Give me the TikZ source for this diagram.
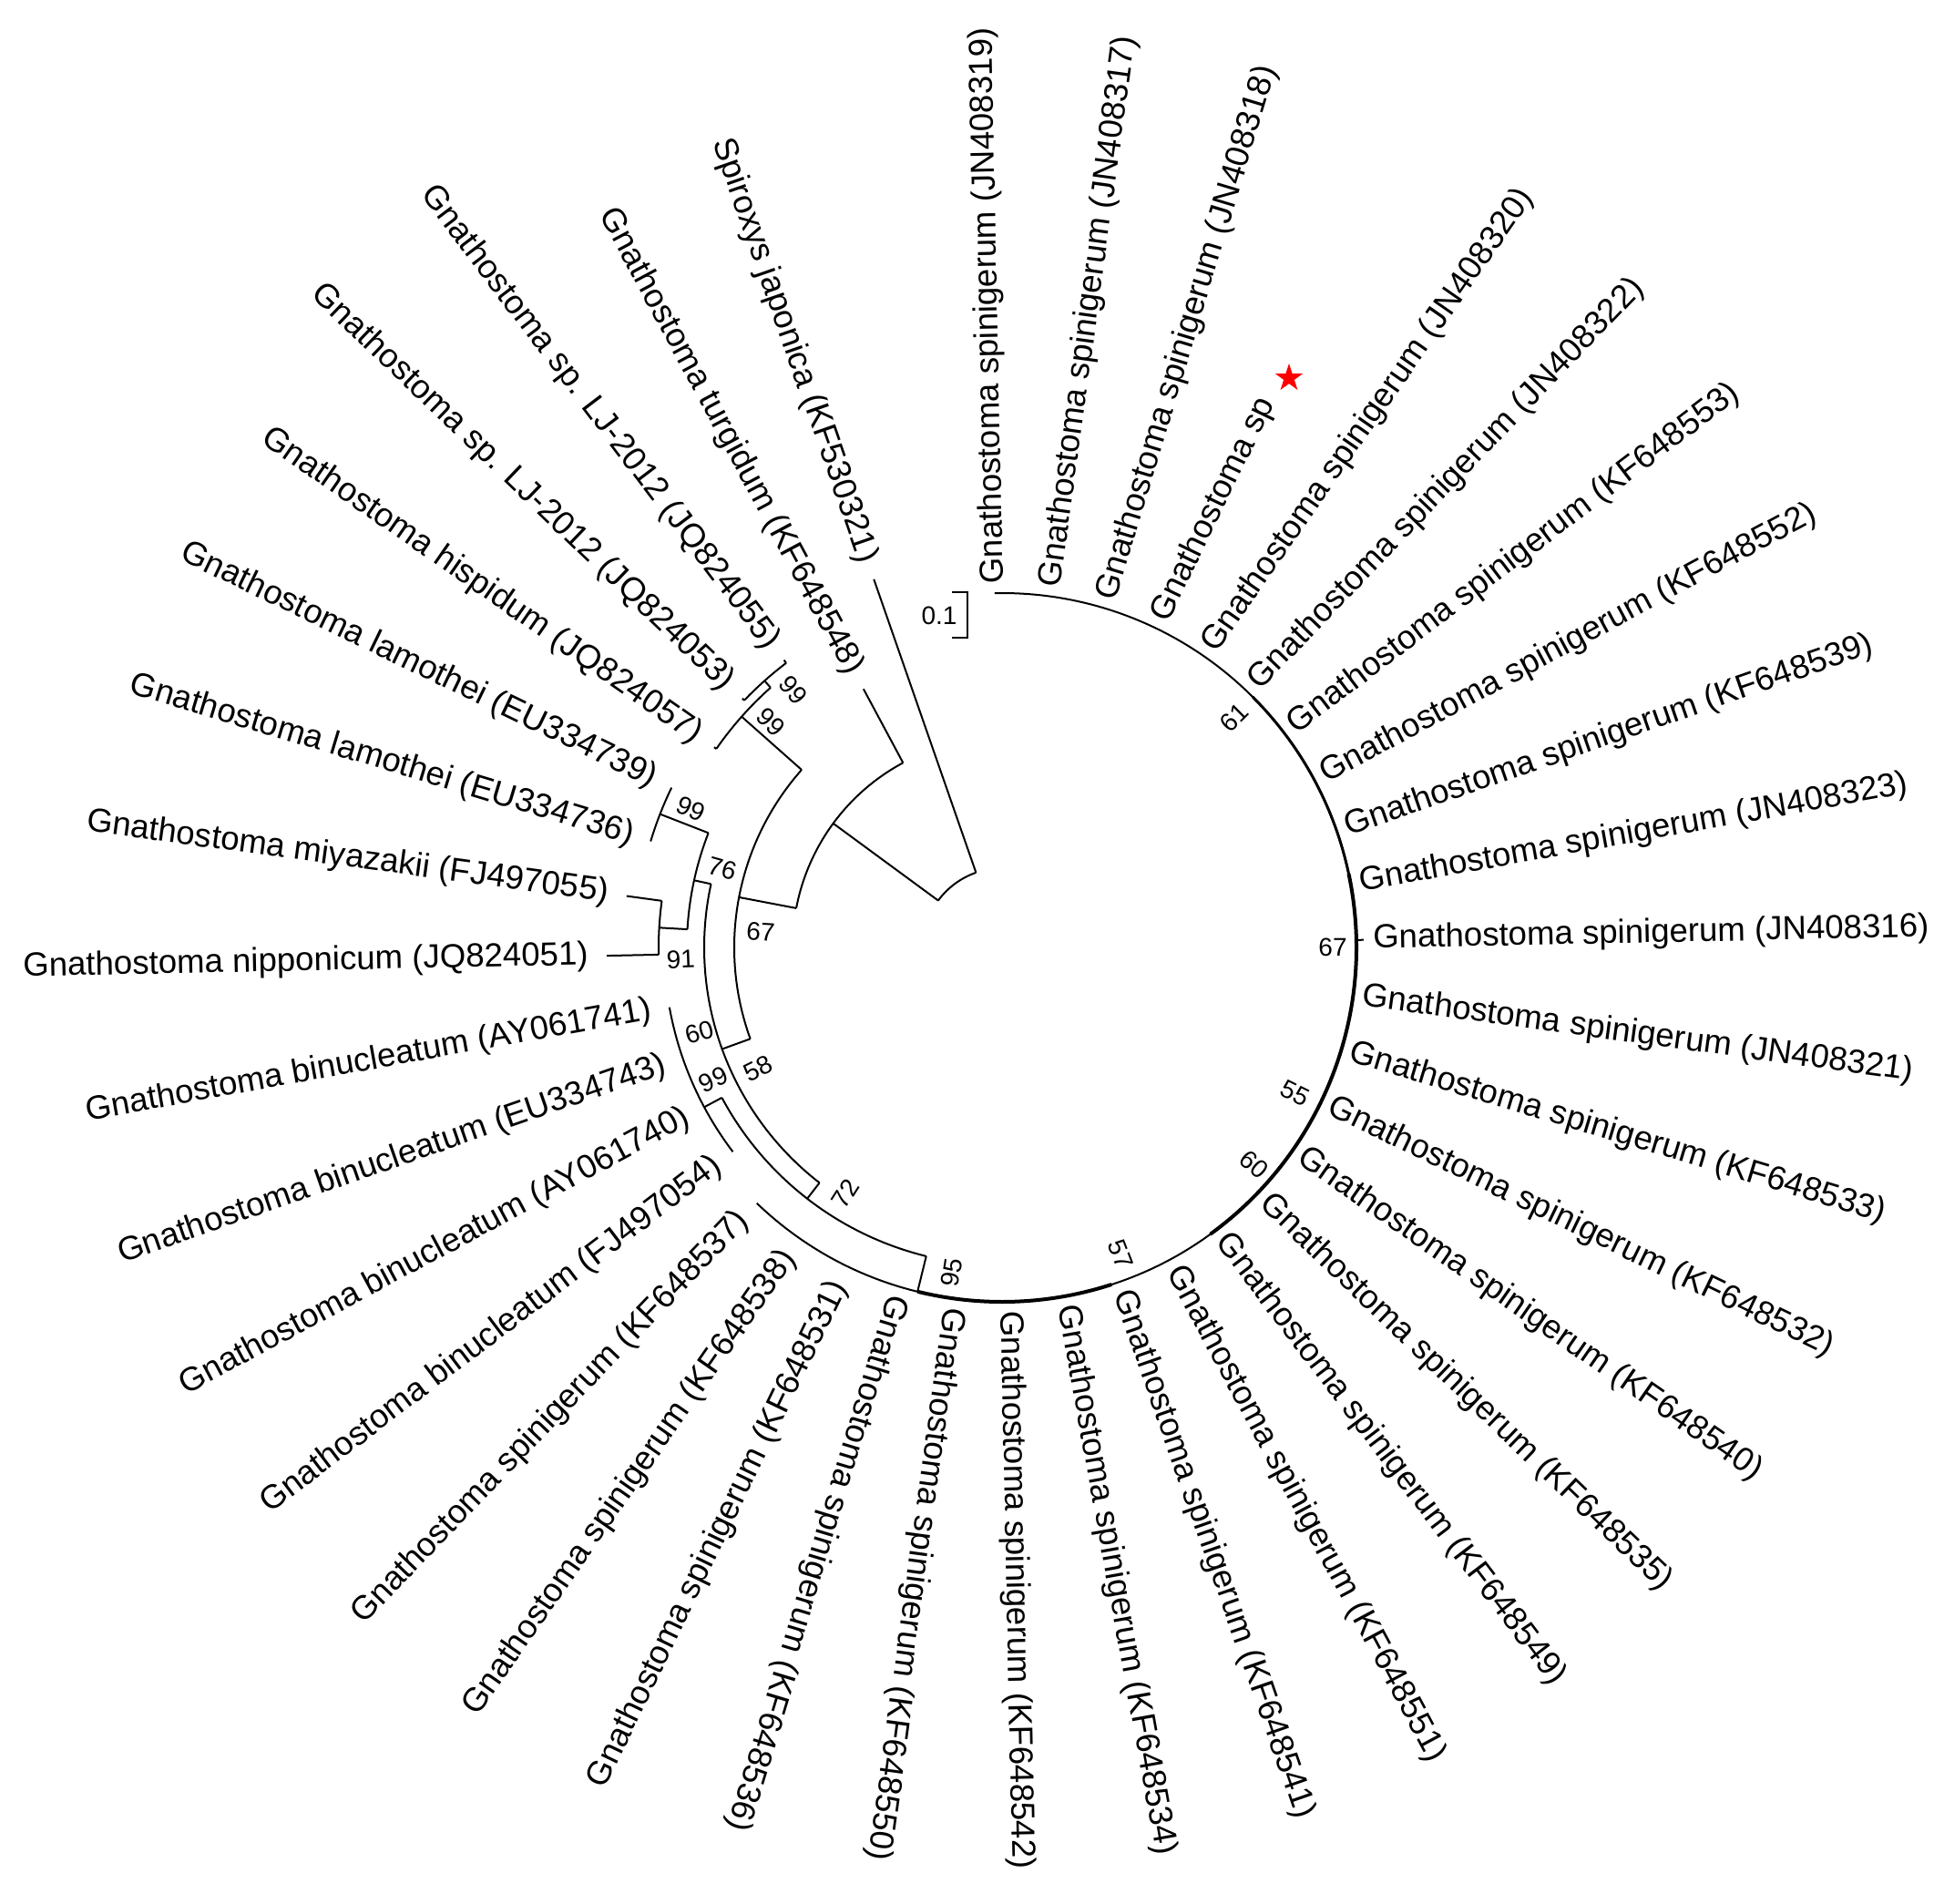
\documentclass[tikz,border=0pt]{standalone}
\usepackage{fontspec}
\setmainfont{Liberation Sans}
\usetikzlibrary{shapes.geometric}
\newcommand\arcc[4][]{\draw[br,#1] (#2:#4pt) arc[start angle=#2, end angle=#3, radius=#4pt];}
\newcommand\radial[4]{\coordinate (#1-in) at (#2:#3pt); \coordinate (#1) at (#2:#4pt); \draw[br] (#1-in) -- (#1);}
\newcommand\labR[4]{\coordinate (#1tip) at (#2:#3pt); \node[leaf, anchor=west, rotate=#2] (#1) at ({#2}:{#3pt+5pt}) {#4};}
\newcommand\labL[4]{\coordinate (#1tip) at (#2:#3pt); \node[leaf, anchor=east, rotate=#2-180] (#1) at ({#2}:{#3pt+10pt}) {#4};}
\begin{document}
\begin{tikzpicture}[x=1pt,y=1pt,
  br/.style={line width=1pt, black, line cap=butt},
  leaf/.style={font=\fontsize{18.3}{22}\selectfont, inner sep=0pt},
  boot/.style={font=\fontsize{14}{16}\selectfont, inner sep=0pt}]
\useasboundingbox (-550,-524.5) rectangle (517,520);
% ---------------- tree skeleton ----------------
\coordinate (root) at (126.45:43.5pt);
\arcc{109.2}{143.7}{43.5}
\radial{spx}{109.2}{43.5}{214}
\radial{nX}{143.7}{43.5}{115}
\arcc{118.2}{169.2}{115}
\radial{turg}{118.2}{115}{161}
\radial{nY}{169.2}{115}{147}
\arcc{138.45}{199.95}{147}
% clade Z
\radial{nZ}{138.45}{147}{191}
\arcc{131.7}{145.2}{191}
\radial{hisp}{145.2}{191}{192.5}
\radial{nLJ}{131.7}{191}{196}
\arcc{127.2}{136.2}{196}
\radial{lj55}{127.2}{196}{198}
\radial{lj53}{136.2}{196}{197.5}
% clade V
\radial{nV}{199.95}{147}{163.5}
\arcc{167.7}{232.2}{163.5}
\radial{nU}{167.7}{163.5}{173}
\arcc{158.7}{176.7}{173}
\radial{nLam}{158.7}{173}{201.5}
\arcc{154.2}{163.2}{201.5}
\radial{n91}{176.7}{173}{188.5}
\arcc{172.2}{181.2}{188.5}
\radial{miy}{172.2}{188.5}{208}
\radial{nip}{181.2}{188.5}{217}
% clade 72
\radial{n72}{232.2}{163.5}{174.5}
\arcc{208.2}{256.2}{174.5}
\radial{nBin}{208.2}{174.5}{185.5}
\arcc{190.2}{217.2}{185.5}
\radial{n95}{256.2}{174.5}{194.5}
\arcc{226.2}{451.2}{194.5}
\arcc[line width=2pt]{256.2}{288}{194.5}
\arcc[line width=2pt]{306}{372}{194.5}
\arcc[line width=1.5pt]{372}{405}{194.5}
\radial{jn16}{1.2}{194.5}{198.5}
% ---------------- leaf labels ----------------
\labR{Ljn16}{1.2}{198.5}{Gnathostoma spinigerum (JN408316)}
\labR{Ljn23}{10.2}{194.5}{Gnathostoma spinigerum (JN408323)}
\labR{Lkf39}{19.2}{194.5}{Gnathostoma spinigerum (KF648539)}
\labR{Lkf52}{28.2}{194.5}{Gnathostoma spinigerum (KF648552)}
\labR{Lkf53}{37.2}{194.5}{Gnathostoma spinigerum (KF648553)}
\labR{Ljn22}{46.2}{194.5}{Gnathostoma spinigerum (JN408322)}
\labR{Ljn20}{55.2}{194.5}{Gnathostoma spinigerum (JN408320)}
\labR{Lsp}{64.2}{194.5}{Gnathostoma sp}
\labR{Ljn18}{73.2}{194.5}{Gnathostoma spinigerum (JN408318)}
\labR{Ljn17}{82.2}{194.5}{Gnathostoma spinigerum (JN408317)}
\labR{Ljn19}{91.2}{194.5}{Gnathostoma spinigerum (JN408319)}
\labL{Lspx}{109.2}{214}{Spiroxys japonica (KF530321)}
\labL{Lturg}{118.2}{161}{Gnathostoma turgidum (KF648548)}
\labL{Llj55}{127.2}{198}{Gnathostoma sp. LJ-2012 (JQ824055)}
\labL{Llj53}{136.2}{197.5}{Gnathostoma sp. LJ-2012 (JQ824053)}
\labL{Lhisp}{145.2}{192.5}{Gnathostoma hispidum (JQ824057)}
\labL{Llam39}{154.2}{201.5}{Gnathostoma lamothei (EU334739)}
\labL{Llam36}{163.2}{201.5}{Gnathostoma lamothei (EU334736)}
\labL{Lmiy}{172.2}{208}{Gnathostoma miyazakii (FJ497055)}
\labL{Lnip}{181.2}{217}{Gnathostoma nipponicum (JQ824051)}
\labL{Lay41}{190.2}{185.5}{Gnathostoma binucleatum (AY061741)}
\labL{Leu43}{199.2}{185.5}{Gnathostoma binucleatum (EU334743)}
\labL{Lay40}{208.2}{185.5}{Gnathostoma binucleatum (AY061740)}
\labL{Lfj54}{217.2}{185.5}{Gnathostoma binucleatum (FJ497054)}
\labL{Lkf37}{226.2}{194.5}{Gnathostoma spinigerum (KF648537)}
\labL{Lkf38}{235.2}{194.5}{Gnathostoma spinigerum (KF648538)}
\labL{Lkf31}{244.2}{194.5}{Gnathostoma spinigerum (KF648531)}
\labR{Lkf36}{253.2}{194.5}{Gnathostoma spinigerum (KF648536)}
\labR{Lkf50}{262.2}{194.5}{Gnathostoma spinigerum (KF648550)}
\labR{Lkf42}{271.2}{194.5}{Gnathostoma spinigerum (KF648542)}
\labR{Lkf34}{280.2}{194.5}{Gnathostoma spinigerum (KF648534)}
\labR{Lkf41}{289.2}{194.5}{Gnathostoma spinigerum (KF648541)}
\labR{Lkf51}{298.2}{194.5}{Gnathostoma spinigerum (KF648551)}
\labR{Lkf49}{307.2}{194.5}{Gnathostoma spinigerum (KF648549)}
\labR{Lkf35}{316.2}{194.5}{Gnathostoma spinigerum (KF648535)}
\labR{Lkf40}{325.2}{194.5}{Gnathostoma spinigerum (KF648540)}
\labR{Lkf32}{334.2}{194.5}{Gnathostoma spinigerum (KF648532)}
\labR{Lkf33}{343.2}{194.5}{Gnathostoma spinigerum (KF648533)}
\labR{Ljn21}{352.2}{194.5}{Gnathostoma spinigerum (JN408321)}
% ---------------- bootstrap values ----------------
\node[boot, rotate=-51]   (bs1)  at (129:182pt)    {99};
\node[boot, rotate=-44.3] (bs2)  at (135.7:177pt)  {99};
\node[boot, rotate=-24]   (bs3)  at (156:187pt)    {99};
\node[boot, rotate=-15.8] (bs4)  at (164.2:159.5pt) {76};
\node[boot, rotate=-3.7]  (bs5)  at (176.3:132.75pt) {67};
\node[boot, rotate=2.1]   (bs6)  at (182.1:176.5pt) {91};
\node[boot, rotate=15.6]  (bs7)  at (195.6:172.5pt) {60};
\node[boot, rotate=24.6]  (bs8)  at (204.6:174.3pt) {99};
\node[boot, rotate=26.4]  (bs9)  at (206.4:149.5pt) {58};
\node[boot, rotate=57.5]  (bs10) at (237.5:160pt)  {72};
\node[boot, rotate=81.2]  (bs11) at (261.2:180.5pt) {95};
\node[boot, rotate=-68.9] (bs12) at (291.1:180.5pt) {57};
\node[boot, rotate=-40.7] (bs13) at (319.3:182.5pt) {60};
\node[boot, rotate=-26.4] (bs14) at (333.6:179.8pt) {55};
\node[boot]               (bs15) at (0:181.5pt)    {67};
\node[boot, rotate=44.7]  (bs16) at (44.7:179.3pt) {61};
% ---------------- scale bar ----------------
\coordinate (sbA) at (-27.5,195);
\coordinate (sbB) at (-19,195);
\coordinate (sbC) at (-19,170);
\coordinate (sbD) at (-27.5,170);
\draw[br] (sbA) -- (sbB) -- (sbC) -- (sbD);
\node[boot] (sbl) at (-34.5,182) {0.1};
% ---------------- star ----------------
\node[star, star points=5, star point ratio=2.6, fill=red, draw=none,
      minimum size=16pt, inner sep=0pt] (mark) at (157.5,312.5) {};
\end{tikzpicture}
\end{document}
